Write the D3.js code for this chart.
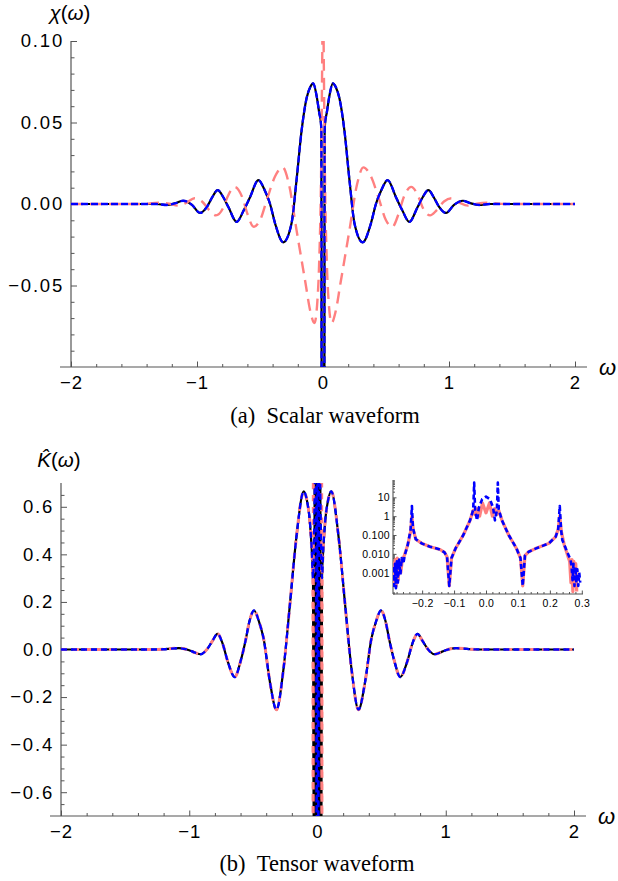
<!DOCTYPE html>
<html><head><meta charset="utf-8">
<script src="https://cdn.jsdelivr.net/npm/d3@7"></script>
<style>body{margin:0;background:#fff}svg{display:block}</style>
</head><body>
<svg id="c" width="618" height="881"></svg>
<script>
// ---------- Panel (a): scalar waveform chi(omega) ----------
const chiOmega = [-2.0,-1.5,-1.32,-1.24,-1.17,-1.11,-1.04,-0.976,-0.92,-0.88,-0.836,-0.79,-0.75,-0.685,-0.63,-0.58,-0.513,-0.46,-0.42,-0.38,-0.315,-0.25,-0.21,-0.17,-0.13,-0.1,-0.078,-0.05,-0.03,-0.017,-0.013,-0.011,0,
  0.011,0.013,0.017,0.03,0.05,0.078,0.1,0.13,0.17,0.21,0.25,0.315,0.38,0.42,0.46,0.513,0.58,0.63,0.685,0.75,0.79,0.836,0.88,0.92,0.976,1.04,1.11,1.17,1.24,1.32,1.5,2.0];
const chiExact = [0,0,0,-0.0006,0.0005,0.002,-0.0005,-0.0055,-0.0016,0.004,0.0085,0.004,-0.002,-0.011,-0.004,0.004,0.0147,0.008,0.0,-0.012,-0.0235,-0.012,0.0147,0.045,0.065,0.072,0.074,0.066,0.056,0.05,0.044,-0.12,-0.6,
  -0.12,0.044,0.05,0.056,0.066,0.074,0.072,0.065,0.045,0.0147,-0.012,-0.0235,-0.012,0.0,0.008,0.0147,0.004,-0.004,-0.011,-0.002,0.004,0.0085,0.004,-0.0016,-0.0055,-0.0005,0.002,0.0005,-0.0006,0,0,0];
const chiFit = chiExact; // blue dashed curve lies on top of the black one
const chiAltOmega = [-2.0,-1.45,-1.3,-1.22,-1.15,-1.08,-1.02,-0.96,-0.9,-0.85,-0.79,-0.76,-0.70,-0.64,-0.6,-0.55,-0.5,-0.44,-0.38,-0.32,-0.27,-0.21,-0.14,-0.1,-0.068,-0.045,-0.03,-0.015,-0.006,0,
  0.006,0.015,0.03,0.045,0.068,0.1,0.14,0.21,0.27,0.32,0.38,0.44,0.5,0.55,0.6,0.64,0.70,0.76,0.79,0.85,0.9,0.96,1.02,1.08,1.15,1.22,1.3,1.45,2.0];
const chiAlt = [0,0,0.0008,0.0002,-0.001,0.001,0.0035,0.0015,-0.004,-0.007,-0.002,0.004,0.0105,0.004,-0.006,-0.014,-0.01,0.004,0.017,0.0225,0.012,-0.016,-0.048,-0.066,-0.073,-0.06,-0.035,0.02,0.09,0.14,
  0.09,0.02,-0.035,-0.06,-0.073,-0.066,-0.048,-0.016,0.012,0.0225,0.017,0.004,-0.01,-0.014,-0.006,0.004,0.0105,0.004,-0.002,-0.007,-0.004,0.0015,0.0035,0.001,-0.001,0.0002,0.0008,0,0];
const chiYTicks = [0.10,0.05,0.00,-0.05];
const chiYLabels = ["0.10","0.05","0.00","\u22120.05"];

// ---------- Panel (b): tensor waveform K(omega) ----------
const kOmega = [-2.0,-1.3,-1.2,-1.14,-1.08,-1.0,-0.96,-0.91,-0.86,-0.82,-0.78,-0.74,-0.70,-0.645,-0.60,-0.56,-0.53,-0.495,-0.455,-0.42,-0.37,-0.32,-0.267,-0.215,-0.165,-0.107,-0.08,-0.06,-0.045,-0.035,-0.03,-0.02,-0.01,0,
  0.01,0.02,0.03,0.035,0.045,0.06,0.08,0.107,0.165,0.215,0.267,0.32,0.37,0.42,0.455,0.495,0.53,0.56,0.60,0.645,0.70,0.74,0.78,0.82,0.86,0.91,0.96,1.0,1.08,1.14,1.2,1.3,2.0];
const kExact = [0,0,0.001,0.004,0.0055,-0.003,-0.012,-0.02,0.002,0.035,0.066,0.025,-0.05,-0.116,-0.05,0.04,0.12,0.164,0.115,0.045,-0.14,-0.253,-0.09,0.19,0.47,0.665,0.62,0.54,0.42,0.3,-0.9,0.9,-0.9,0.9,
  -0.9,0.9,-0.9,0.3,0.42,0.54,0.62,0.665,0.47,0.19,-0.09,-0.253,-0.14,0.045,0.115,0.164,0.12,0.04,-0.05,-0.116,-0.05,0.025,0.066,0.035,0.002,-0.02,-0.012,-0.003,0.0055,0.004,0.001,0,0];
const kFitOmega = [-2.0,-1.3,-1.2,-1.14,-1.08,-1.0,-0.96,-0.91,-0.86,-0.82,-0.78,-0.74,-0.70,-0.645,-0.60,-0.56,-0.53,-0.495,-0.455,-0.42,-0.37,-0.32,-0.267,-0.215,-0.165,-0.107,-0.08,-0.06,-0.045,-0.035,-0.012,-0.007,0,
  0.007,0.012,0.035,0.045,0.06,0.08,0.107,0.165,0.215,0.267,0.32,0.37,0.42,0.455,0.495,0.53,0.56,0.60,0.645,0.70,0.74,0.78,0.82,0.86,0.91,0.96,1.0,1.08,1.14,1.2,1.3,2.0];
const kFit = [0,0,0.001,0.004,0.0055,-0.003,-0.012,-0.02,0.002,0.035,0.066,0.025,-0.05,-0.116,-0.05,0.04,0.12,0.164,0.115,0.045,-0.14,-0.253,-0.09,0.19,0.47,0.665,0.62,0.54,0.42,0.3,0.9,-0.9,0.9,
  -0.9,0.9,0.3,0.42,0.54,0.62,0.665,0.47,0.19,-0.09,-0.253,-0.14,0.045,0.115,0.164,0.12,0.04,-0.05,-0.116,-0.05,0.025,0.066,0.035,0.002,-0.02,-0.012,-0.003,0.0055,0.004,0.001,0,0];
const kAltOmega = [-2.0,-1.3,-1.2,-1.14,-1.08,-1.0,-0.96,-0.91,-0.86,-0.82,-0.78,-0.74,-0.70,-0.645,-0.60,-0.56,-0.53,-0.495,-0.455,-0.42,-0.37,-0.32,-0.267,-0.215,-0.165,-0.107,-0.08,-0.06,-0.045,-0.036,-0.034,-0.032,
  0.032,0.034,0.036,0.045,0.06,0.08,0.107,0.165,0.215,0.267,0.32,0.37,0.42,0.455,0.495,0.53,0.56,0.60,0.645,0.70,0.74,0.78,0.82,0.86,0.91,0.96,1.0,1.08,1.14,1.2,1.3,2.0];
const kAlt = [0,0,0.001,0.004,0.0055,-0.003,-0.012,-0.02,0.002,0.035,0.066,0.025,-0.05,-0.116,-0.05,0.04,0.12,0.164,0.115,0.045,-0.14,-0.253,-0.09,0.19,0.47,0.665,0.62,0.54,0.42,0.3,-0.9,0.9,
  0.9,-0.9,0.3,0.42,0.54,0.62,0.665,0.47,0.19,-0.09,-0.253,-0.14,0.045,0.115,0.164,0.12,0.04,-0.05,-0.116,-0.05,0.025,0.066,0.035,0.002,-0.02,-0.012,-0.003,0.0055,0.004,0.001,0,0];
const kYTicks = [0.6,0.4,0.2,0.0,-0.2,-0.4,-0.6];
const kYLabels = ["0.6","0.4","0.2","0.0","\u22120.2","\u22120.4","\u22120.6"];

// ---------- shared x ticks ----------
const omegaTicks = [-2,-1,0,1,2];
const omegaLabels = ["\u22122","\u22121","0","1","2"];

// ---------- Inset (log |K|) ----------
const insetOmegaBlue = [-0.291,-0.288,-0.285,-0.282,-0.279,-0.276,-0.272,-0.268,-0.264,-0.259,-0.254,-0.245,-0.236,-0.232,-0.229,-0.22,-0.2,-0.175,-0.144,-0.13,-0.122,-0.115,-0.108,-0.095,-0.071,-0.05,-0.04,-0.037,-0.034,-0.028,-0.022,-0.012,0,
  0.012,0.022,0.028,0.034,0.037,0.04,0.05,0.071,0.095,0.108,0.115,0.122,0.134,0.155,0.197,0.218,0.226,0.231,0.235,0.239,0.254,0.265,0.268,0.271,0.274,0.277,0.28,0.283,0.286,0.289,0.292,0.295];
const insetBlue = [0.002,0.0002,0.003,0.00015,0.004,0.0003,0.005,0.0008,0.006,0.003,0.009,0.03,0.2,3.5,0.25,0.06,0.035,0.024,0.017,0.012,0.007,0.0002,0.006,0.02,0.1,0.6,2.2,60,2,0.6,3,8,11,
  8,3,0.6,2,60,2.2,0.6,0.1,0.02,0.006,0.0002,0.008,0.013,0.019,0.036,0.08,0.2,3.4,0.2,0.054,0.013,0.0047,0.002,0.0004,0.003,0.0002,0.002,0.0003,0.0015,0.0002,0.001,0.0003];
const insetOmegaPink = [-0.29,-0.287,-0.284,-0.281,-0.278,-0.275,-0.271,-0.267,-0.262,-0.256,-0.245,-0.236,-0.232,-0.228,-0.22,-0.2,-0.175,-0.144,-0.13,-0.122,-0.115,-0.108,-0.095,-0.071,-0.05,-0.04,-0.034,-0.027,-0.02,-0.011,0,
  0.011,0.02,0.027,0.034,0.04,0.05,0.071,0.095,0.108,0.115,0.122,0.134,0.155,0.197,0.218,0.226,0.231,0.236,0.245,0.256,0.262,0.266,0.269,0.272,0.275,0.278,0.281,0.284];
const insetPink = [0.004,0.0003,0.005,0.0002,0.006,0.0004,0.004,0.001,0.005,0.008,0.03,0.15,1.0,0.2,0.06,0.035,0.024,0.017,0.012,0.007,0.0002,0.006,0.02,0.1,0.6,2,1.2,2.5,1,5,1.5,
  5,1,2.5,1.2,2,0.6,0.1,0.02,0.006,0.0002,0.008,0.013,0.019,0.036,0.08,0.2,1.0,0.15,0.03,0.008,0.004,0.0003,0.005,0.0001,0.004,0.0002,0.003,0.0001];
const insetXTicks = [-0.2,-0.1,0.0,0.1,0.2,0.3];
const insetXLabels = ["\u22120.2","\u22120.1","0.0","0.1","0.2","0.3"];
const insetYTicks = [10,1,0.1,0.01,0.001];
const insetYLabels = ["10","1","0.100","0.010","0.001"];

// ---------- drawing ----------
const svg = d3.select("#c");
const SANS = "'Liberation Sans', Arial, Helvetica, sans-serif";
const SERIF = "'Liberation Serif', 'Times New Roman', serif";
const AXIS = "#555";
const PINK = "#ff8080";
const BLUE = "#0000ff";

function styleAxis(g, size, spacing) {
  g.select(".domain").remove();
  g.selectAll(".tick line").attr("stroke", AXIS).attr("stroke-width", 1);
  g.selectAll(".tick text").attr("fill", "#000").attr("font-family", SANS)
    .attr("font-size", size).attr("letter-spacing", spacing);
}

function panel(o) {
  const x = d3.scaleLinear([-2, 2], [o.x0, o.x1]);
  const y = d3.scaleLinear(o.ydom, [o.y0, o.y1]);
  const id = "clip" + o.name;
  svg.append("clipPath").attr("id", id).append("rect")
    .attr("x", o.x0).attr("y", o.y1).attr("width", o.x1 - o.x0).attr("height", o.y0 - o.y1);
  const g = svg.append("g");
  g.append("g").attr("transform", `translate(0,${o.y0})`)
    .call(d3.axisBottom(x).tickValues(d3.range(-2, 2.001, 0.2).filter(v => Math.abs(v - Math.round(v)) > 1e-6)).tickSize(-3).tickFormat(""))
    .call(a => styleAxis(a, 18.5, 0));
  g.append("g").attr("transform", `translate(0,${o.y0})`)
    .call(d3.axisBottom(x).tickValues(omegaTicks).tickSize(-5.5).tickPadding(9).tickFormat((d, i) => omegaLabels[i]))
    .call(a => styleAxis(a, 18.5, 1));
  g.append("g").attr("transform", `translate(${o.x0},0)`)
    .call(d3.axisLeft(y).tickValues(o.minor).tickSize(-3.5).tickFormat(""))
    .call(a => styleAxis(a, 18.5, 0));
  g.append("g").attr("transform", `translate(${o.x0},0)`)
    .call(d3.axisLeft(y).tickValues(o.yticks).tickSize(-6).tickPadding(7).tickFormat((d, i) => o.ylabels[i]))
    .call(a => styleAxis(a, 18.5, 1.8));
  g.append("line").attr("x1", o.x0 - 11).attr("x2", o.x1 + 12).attr("y1", o.y0).attr("y2", o.y0)
    .attr("stroke", AXIS).attr("stroke-width", 1.2);
  g.append("line").attr("x1", o.x0).attr("x2", o.x0).attr("y1", o.y1).attr("y2", o.y0)
    .attr("stroke", AXIS).attr("stroke-width", 1.2);
  const line = d3.line().x(d => x(d[0])).y(d => y(d[1])).curve(d3.curveMonotoneX);
  const plot = g.append("g").attr("clip-path", `url(#${id})`);
  o.series.forEach(s => {
    plot.append("path").attr("d", line(d3.zip(s.xs, s.ys))).attr("fill", "none")
      .attr("stroke", s.color).attr("stroke-width", s.w).attr("stroke-dasharray", s.dash || null)
      .attr("stroke-linejoin", "round");
  });
  svg.append("text").attr("x", o.x1 + 24).attr("y", o.y0 + 8).attr("font-family", SANS)
    .attr("font-style", "italic").attr("font-size", 22).attr("fill", "#000").text("\u03c9");
  return {x, y};
}

panel({
  name: "a", x0: 71, x1: 575, y0: 367, y1: 41, ydom: [-0.1, 0.1],
  yticks: chiYTicks, ylabels: chiYLabels,
  minor: d3.range(-0.09, 0.1, 0.01).filter(v => Math.abs(v / 0.05 - Math.round(v / 0.05)) > 1e-6),
  series: [
    {xs: chiOmega, ys: chiExact, color: "#000", w: 2.2},
    {xs: chiAltOmega, ys: chiAlt, color: PINK, w: 2.4, dash: "12,7"},
    {xs: chiOmega, ys: chiFit, color: BLUE, w: 2.3, dash: "7,3"}
  ]
});

panel({
  name: "b", x0: 61, x1: 574, y0: 816, y1: 483, ydom: [-0.7, 0.7],
  yticks: kYTicks, ylabels: kYLabels,
  minor: d3.range(-0.65, 0.7, 0.05).filter(v => Math.abs(v / 0.2 - Math.round(v / 0.2)) > 1e-6),
  series: [
    {xs: kOmega, ys: kExact, color: "#000", w: 2.2},
    {xs: kAltOmega, ys: kAlt, color: PINK, w: 3, dash: "6,6"},
    {xs: kFitOmega, ys: kFit, color: BLUE, w: 2.3, dash: "6,4"}
  ]
});

const chiT = svg.append("text").attr("x", 70).attr("y", 20).attr("text-anchor", "middle")
  .attr("font-family", SANS).attr("font-size", 20.5).attr("fill", "#000");
chiT.append("tspan").attr("font-style", "italic").text("\u03c7");
chiT.append("tspan").text("(");
chiT.append("tspan").attr("font-style", "italic").text("\u03c9");
chiT.append("tspan").text(")");

const kT = svg.append("text").attr("x", 59).attr("y", 467).attr("text-anchor", "middle")
  .attr("font-family", SANS).attr("font-size", 20.5).attr("fill", "#000");
kT.append("tspan").attr("font-style", "italic").text("K\u0302");
kT.append("tspan").text("(");
kT.append("tspan").attr("font-style", "italic").text("\u03c9");
kT.append("tspan").text(")");

svg.append("text").attr("x", 325).attr("y", 423).attr("text-anchor", "middle")
  .attr("font-family", SERIF).attr("font-size", 22.5).attr("fill", "#000")
  .text("(a)\u2002Scalar waveform");
svg.append("text").attr("x", 317).attr("y", 871).attr("text-anchor", "middle")
  .attr("font-family", SERIF).attr("font-size", 22.5).attr("fill", "#000")
  .text("(b)\u2002Tensor waveform");

// ---------- inset ----------
(function () {
  const ix = d3.scaleLinear([-0.3, 0.3], [390.2, 581.8]);
  const iy = d3.scaleLog([Math.pow(10, -4.13), Math.pow(10, 1.92)], [594, 480]);
  const g = svg.append("g");
  svg.append("clipPath").attr("id", "clipI").append("rect")
    .attr("x", 393).attr("y", 478).attr("width", 191).attr("height", 116);
  const minorX = d3.range(-0.28, 0.301, 0.02).filter(v => Math.abs(v * 10 - Math.round(v * 10)) > 1e-6);
  g.append("g").attr("transform", "translate(0,594)")
    .call(d3.axisBottom(ix).tickValues(minorX).tickSize(-2).tickFormat(""))
    .call(a => styleAxis(a, 10.5, 0));
  g.append("g").attr("transform", "translate(0,594)")
    .call(d3.axisBottom(ix).tickValues(insetXTicks).tickSize(-3.5).tickPadding(6).tickFormat((d, i) => insetXLabels[i]))
    .call(a => styleAxis(a, 10.5, 0.3));
  const minorY = [];
  [-5, -4, -3, -2, -1, 0, 1].forEach(e => { for (let m = 2; m <= 9; m++) { const v = m * Math.pow(10, e); if (v > iy.domain()[0] && v < iy.domain()[1]) minorY.push(v); } });
  g.append("g").attr("transform", "translate(393,0)")
    .call(d3.axisLeft(iy).tickValues(minorY).tickSize(-2).tickFormat(""))
    .call(a => styleAxis(a, 10.5, 0));
  g.append("g").attr("transform", "translate(393,0)")
    .call(d3.axisLeft(iy).tickValues(insetYTicks).tickSize(-3.5).tickPadding(3).tickFormat((d, i) => insetYLabels[i]))
    .call(a => styleAxis(a, 10.5, 0.3));
  g.append("line").attr("x1", 393).attr("x2", 583).attr("y1", 594).attr("y2", 594).attr("stroke", AXIS).attr("stroke-width", 1.1);
  g.append("line").attr("x1", 393).attr("x2", 393).attr("y1", 480).attr("y2", 594).attr("stroke", AXIS).attr("stroke-width", 1.1);
  const line = d3.line().x(d => ix(d[0])).y(d => iy(d[1]));
  const p = g.append("g").attr("clip-path", "url(#clipI)");
  p.append("path").attr("d", line(d3.zip(insetOmegaPink, insetPink))).attr("fill", "none")
    .attr("stroke", PINK).attr("stroke-width", 3.2).attr("stroke-linejoin", "round");
  p.append("path").attr("d", line(d3.zip(insetOmegaBlue, insetBlue))).attr("fill", "none")
    .attr("stroke", BLUE).attr("stroke-width", 2.6).attr("stroke-dasharray", "5,3").attr("stroke-linejoin", "round");
})();
</script>
</body></html>
